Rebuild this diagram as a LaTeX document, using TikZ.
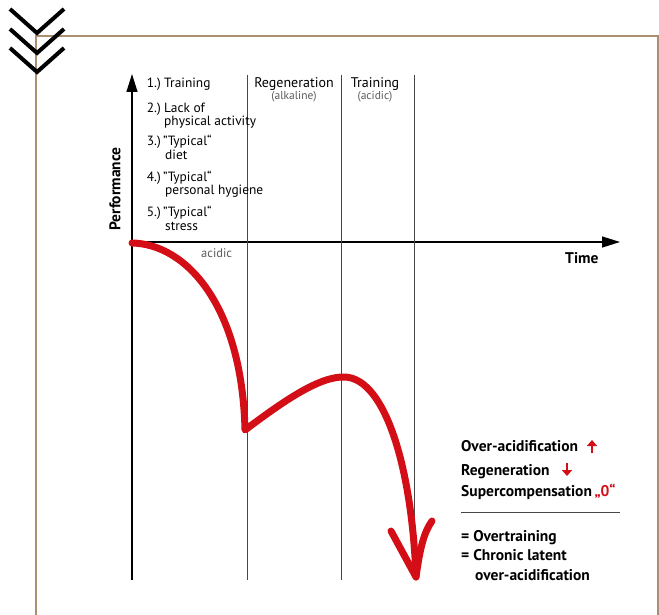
\documentclass[tikz,border=0pt]{standalone}
\usepackage{fontspec}
\setmainfont{PT Sans}
\usetikzlibrary{arrows.meta}
\definecolor{framec}{RGB}{172,142,112}
\definecolor{myred}{RGB}{212,14,22}
\definecolor{gridc}{RGB}{70,70,70}
\definecolor{softc}{RGB}{90,90,90}
\tikzset{
  txt/.style={anchor=base west, inner sep=0pt, font=\fontsize{13.4}{15}\selectfont},
  num/.style={anchor=base east, inner sep=0pt, font=\fontsize{13.4}{15}\selectfont},
  hdr/.style={anchor=base, inner sep=0pt, font=\fontsize{14}{16}\selectfont},
  sub/.style={anchor=base, inner sep=0pt, text=softc, font=\fontsize{11.5}{13}\selectfont},
  leg/.style={anchor=base west, inner sep=0pt, font=\bfseries\fontsize{15.5}{17}\selectfont},
  axisline/.style={line width=1.3pt, -{Triangle[length=18pt, width=11pt]}},
  gridline/.style={gridc, line width=1pt},
  redcurve/.style={myred, line width=7pt, line cap=round, line join=round},
  redarrow/.style={myred, line width=2.6pt, -{Triangle[length=6pt, width=10pt]}},
  chev/.style={line width=4pt},
}
\begin{document}
\begin{tikzpicture}[x=1pt,y=-1pt]
\useasboundingbox (0,0) rectangle (659,615);
% frame
\draw[framec, line width=1.5pt] (36,615) -- (36,36) -- (658,36) -- (658,615);
% chevrons
\draw[chev] (10,9) -- (37,33) -- (64,9);
\draw[chev] (10,29) -- (37,53) -- (64,29);
\draw[chev] (10,48) -- (37,72) -- (64,48);
% axes
\coordinate (O) at (132,242);
\coordinate (ybot) at (132,580);
\coordinate (ytop) at (132,74);
\coordinate (xend) at (620,242);
\draw[axisline] (ybot) -- (ytop);
\draw[axisline] (O) -- (xend);
% grid lines
\coordinate (g1t) at (247,75); \coordinate (g1b) at (247,580);
\coordinate (g2t) at (341,75); \coordinate (g2b) at (341,580);
\coordinate (g3t) at (414,75); \coordinate (g3b) at (414,580);
\draw[gridline] (g1t) -- (g1b);
\draw[gridline] (g2t) -- (g2b);
\draw[gridline] (g3t) -- (g3b);
% list
\node[num] (n1) at (161,88) {1.)};
\node[txt] (t1) at (164,88) {Training};
\node[num] (n2) at (161,112.5) {2.)};
\node[txt] (t2a) at (164,112.5) {Lack of};
\node[txt] (t2b) at (164,125.5) {physical activity};
\node[num] (n3) at (161,146) {3.)};
\node[txt] (t3a) at (163,146) {”Typical“};
\node[txt] (t3b) at (165,160) {diet};
\node[num] (n4) at (161,181.5) {4.)};
\node[txt] (t4a) at (163,181.5) {”Typical“};
\node[txt] (t4b) at (165,195) {personal hygiene};
\node[num] (n5) at (161,216.5) {5.)};
\node[txt] (t5a) at (163,216.5) {”Typical“};
\node[txt] (t5b) at (165,230) {stress};
% headers
\node[hdr] (h1) at (294,87.5) {Regeneration};
\node[sub] (s1) at (294,100) {(alkaline)};
\node[hdr] (h2) at (375,87.5) {Training};
\node[sub] (s2) at (375,100) {(acidic)};
% axis labels
\node[font=\bfseries\fontsize{15.5}{17}\selectfont, rotate=90, inner sep=0pt] (perf) at (115,189) {Performance};
\node[anchor=base west, inner sep=0pt, font=\bfseries\fontsize{15.5}{17}\selectfont] (time) at (565,263) {Time};
\node[anchor=base west, inner sep=0pt, text=softc, font=\fontsize{12.5}{14}\selectfont] (acid) at (201,257) {acidic};
% red curve
\coordinate (c0) at (132,243);
\coordinate (c1) at (245,430);
\coordinate (c2) at (345,377);
\coordinate (tip) at (416,577);
\coordinate (armL) at (391,531);
\coordinate (armR) at (432,521);
\draw[redcurve] (c0) .. controls (186,244) and (242,305) .. (c1)
  .. controls (285,400) and (320,376) .. (c2)
  .. controls (386,379) and (412,470) .. (tip);
\draw[redcurve] (armL) -- (tip) .. controls (420,548) and (424,532) .. (armR);
% legend
\node[leg] (l1) at (461,451.5) {Over-acidification};
\coordinate (ua0) at (592,453); \coordinate (ua1) at (592,440);
\draw[redarrow] (ua0) -- (ua1);
\node[leg] (l2) at (461,475) {Regeneration};
\coordinate (da0) at (567,463); \coordinate (da1) at (567,476);
\draw[redarrow] (da0) -- (da1);
\node[leg] (l3) at (461,496.5) {Supercompensation\,\textcolor{myred}{„0“}};
\coordinate (r0) at (461,512.5); \coordinate (r1) at (620,512.5);
\draw[gridc, line width=1.6pt] (r0) -- (r1);
\node[leg] (l4) at (461,541.5) {= Overtraining};
\node[leg] (l5) at (461,560) {= Chronic latent};
\node[leg] (l6) at (475,580) {over-acidification};
\end{tikzpicture}
\end{document}
